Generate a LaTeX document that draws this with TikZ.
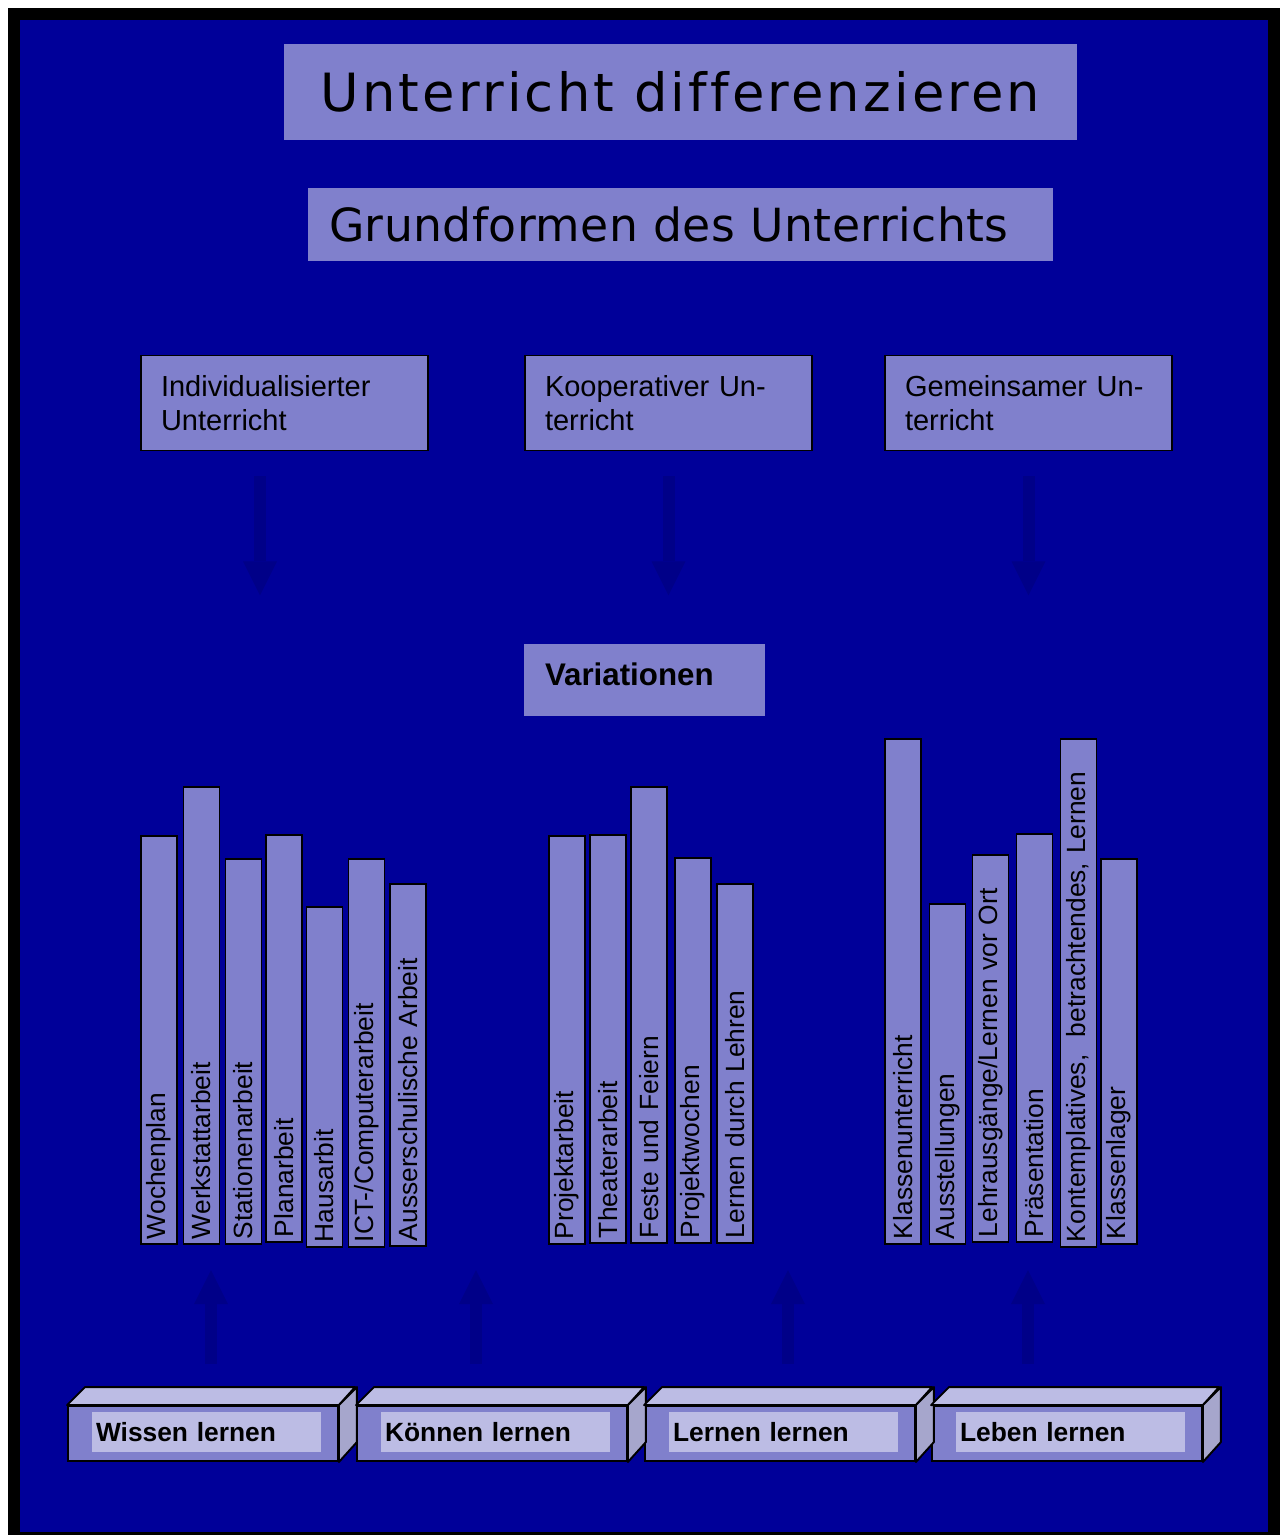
\documentclass[tikz,border=0pt]{standalone}
\usepackage{fontspec}
\setmainfont{Liberation Sans}
\newfontfamily\titrefont[LetterSpace=6,Ligatures=NoCommon]{DejaVu Sans}
\newfontfamily\sousfont[LetterSpace=1,Ligatures=NoCommon]{DejaVu Sans}
\usepackage{tikz}
\usetikzlibrary{calc,arrows.meta}
\definecolor{fond}{HTML}{000099}
\definecolor{mauve}{HTML}{8080CC}
\definecolor{pale}{HTML}{BCBCE4}
\definecolor{cote}{HTML}{A6A6CC}
\definecolor{fleche}{HTML}{000088}

\tikzset{
  boite/.style={fill=mauve, inner sep=0pt},
  forme/.style={draw=black, line width=1.1pt, fill=mauve, minimum width=5.74cm, minimum height=1.9cm,
    inner xsep=0.4cm, text width=4.94cm, align=left, font=\fontsize{16.5}{19.5}\selectfont},
  barre/.style={draw=black, line width=1.1pt, fill=mauve, rotate=90, anchor=west, minimum height=0.72cm,
    inner xsep=0.1cm, inner ysep=0pt, text width={#1*0.02cm-0.2cm}, align=left, font=\fontsize{15}{18}\selectfont},
  face/.style={draw=black, line width=1.1pt, fill=mauve, minimum width=5.4cm, minimum height=1.1cm},
  dessus/.style={draw=black, line width=1.1pt, fill=pale, line join=round},
  flanc/.style={draw=black, line width=1.1pt, fill=cote, line join=round},
  etiquette/.style={fill=pale, minimum width=4.58cm, minimum height=0.8cm, inner xsep=0.08cm,
    text width=4.42cm, align=left, font=\bfseries\fontsize{15}{18}\selectfont},
  bloc/.style={draw=fleche, line width=0.24cm, -{Triangle[width=0.68cm, length=0.68cm, line width=0pt]}}
}

\begin{document}
\begin{tikzpicture}[x=0.02cm, y=-0.02cm]

    \useasboundingbox (0,0) rectangle (1280,1535);
    \fill[white] (0,0) rectangle (1280,1535);

    % Cadre et fond
    \fill[black] (8,8) rectangle (1280,1535);
    \fill[fond] (20,20) rectangle (1268,1532);

    % Titres
    \node[boite, minimum width=15.86cm, minimum height=1.92cm, font=\titrefont\fontsize{30}{36}\selectfont] (titre) at (680.5,92) {Unterricht differenzieren};
    \node[boite, minimum width=14.9cm, minimum height=1.46cm, inner xsep=0.42cm, text width=14.06cm, align=left, font=\sousfont\fontsize{26}{31}\selectfont] (grund) at (680.5,224.5) {\raisebox{-0.2cm}{Grundformen des Unterrichts}};

    % Les trois grandes formes
    \node[forme] (indiv) at (284.5,403) {Individualisierter Unterricht};
    \node[forme] (koop) at (668.5,403) {Kooperativer Un-\\terricht};
    \node[forme] (gemein) at (1028.5,403) {Gemeinsamer Un-\\terricht};

    % Fleches vers le bas
    \draw[bloc] ($(indiv.south)+(-24.5,25)$) -- ++(0,119);
    \draw[bloc] ($(koop.south)+(0,25)$) -- ++(0,119);
    \draw[bloc] ($(gemein.south)+(0,25)$) -- ++(0,119);

    \node[boite, minimum width=4.82cm, minimum height=1.44cm, inner xsep=0.42cm, text width=3.98cm, align=left, font=\bfseries\fontsize{17.8}{21}\selectfont] (var) at (644.5,680) {\raisebox{0.22cm}{Variationen}};

    % Barres du premier groupe
    \node[barre=408] (wochenplan) at (159,1245) {Wochenplan};
    \node[barre=457] (werkstatt) at (201.5,1245) {Werkstattarbeit};
    \node[barre=385] (stationen) at (243.5,1245) {Stationenarbeit};
    \node[barre=407] (planarbeit) at (284,1243) {Planarbeit};
    \node[barre=340] (hausarbit) at (324.5,1248) {Hausarbit};
    \node[barre=388] (ict) at (366.5,1248) {ICT-/Computerarbeit};
    \node[barre=362] (ausser) at (408,1247) {Ausserschulische Arbeit};

    % Barres du deuxieme groupe
    \node[barre=408] (projekt) at (567,1245) {Projektarbeit};
    \node[barre=408] (theater) at (608,1244) {Theaterarbeit};
    \node[barre=456] (feste) at (649,1244) {Feste und Feiern};
    \node[barre=385] (pwochen) at (693,1244) {Projektwochen};
    \node[barre=359] (ldl) at (735,1244) {Lernen durch Lehren};

    % Barres du troisieme groupe
    \node[barre=505] (klasse) at (903,1245) {Klassenunterricht};
    \node[barre=340] (ausst) at (947.5,1245) {Ausstellungen};
    \node[barre=387] (lehraus) at (990.5,1243) {Lehrausgänge/Lernen vor Ort};
    \node[barre=408] (praes) at (1034.5,1243) {Präsentation};
    \node[barre=508] (kontempl) at (1078.5,1248) {Kontemplatives,~~betrachtendes, Lernen};
    \node[barre=385] (klager) at (1119,1245) {Klassenlager};

    % Blocs du bas
    \node[face] (wissen) at (203,1433.5) {};
    \node[face] (koennen) at (492,1433.5) {};
    \node[face] (lernen) at (780,1433.5) {};
    \node[face] (leben) at (1067,1433.5) {};

    \draw[dessus] (wissen.north west) -- ++(18,-18) -- ++(270,0) -- (wissen.north east) -- cycle;
    \draw[flanc] (wissen.north east) -- ++(18,-18) -- ++(0,55) -- (wissen.south east) -- cycle;
    \draw[dessus] (koennen.north west) -- ++(18,-18) -- ++(270,0) -- (koennen.north east) -- cycle;
    \draw[flanc] (koennen.north east) -- ++(18,-18) -- ++(0,55) -- (koennen.south east) -- cycle;
    \draw[dessus] (lernen.north west) -- ++(18,-18) -- ++(270,0) -- (lernen.north east) -- cycle;
    \draw[flanc] (lernen.north east) -- ++(18,-18) -- ++(0,55) -- (lernen.south east) -- cycle;
    \draw[dessus] (leben.north west) -- ++(18,-18) -- ++(270,0) -- (leben.north east) -- cycle;
    \draw[flanc] (leben.north east) -- ++(18,-18) -- ++(0,55) -- (leben.south east) -- cycle;

    \node[etiquette] (wissentxt) at ($(wissen.center)+(3.5,-1.5)$) {Wissen lernen};
    \node[etiquette] (koennentxt) at ($(koennen.center)+(3.5,-1.5)$) {Können lernen};
    \node[etiquette] (lernentxt) at ($(lernen.center)+(3.5,-1.5)$) {Lernen lernen};
    \node[etiquette] (lebentxt) at ($(leben.center)+(3.5,-1.5)$) {Leben lernen};

    % Fleches vers le haut
    \draw[bloc] ($(wissen.north)+(8,-41)$) -- ++(0,-94);
    \draw[bloc] ($(koennen.north)+(-16,-41)$) -- ++(0,-94);
    \draw[bloc] ($(lernen.north)+(8,-41)$) -- ++(0,-94);
    \draw[bloc] ($(leben.north)+(-39,-41)$) -- ++(0,-94);
\end{tikzpicture}
\end{document}
